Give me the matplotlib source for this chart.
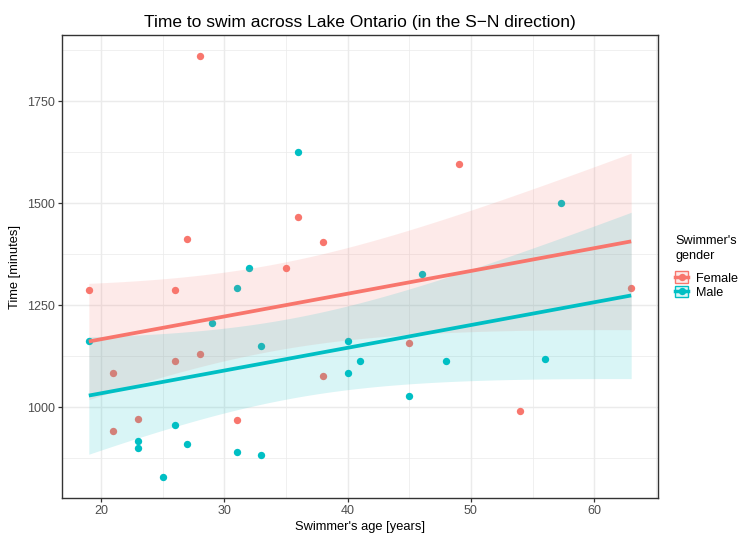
import numpy as np
import matplotlib
matplotlib.use("Agg")
import matplotlib.pyplot as plt
from matplotlib.patches import Patch
from matplotlib.lines import Line2D
from matplotlib.legend_handler import HandlerTuple

plt.rcParams["font.family"] = ["Liberation Sans", "DejaVu Sans"]

# swimmers' ages [years] and crossing times [minutes]
female_age = [28, 36, 27, 38, 35, 19, 26, 26, 28, 21, 38, 23, 21, 31, 49, 63, 45, 54]
female_time = [1860, 1467, 1412, 1404, 1341, 1286, 1288, 1113, 1130, 1084, 1076,
               970, 942, 969, 1597, 1293, 1158, 990]
male_age = [36, 32, 31, 29, 19, 33, 40, 40, 41, 26, 23, 23, 27, 31, 33, 25,
            57.3, 46, 45, 48, 56]
male_time = [1625, 1342, 1292, 1206, 1162, 1151, 1162, 1083, 1113, 956, 918,
             900, 909, 889, 882, 828, 1500, 1327, 1026, 1114, 1119]

genders = ["Female", "Male"]
colors = ["#F8766D", "#00BFC4"]
x_ticks = [20, 30, 40, 50, 60]
y_ticks = [1000, 1250, 1500, 1750]


def t_quantile(p, df):
    # Cornish-Fisher expansion of Student's t around the normal quantile
    z = np.sqrt(2) * _erfinv(2 * p - 1)
    g1 = (z**3 + z) / 4
    g2 = (5 * z**5 + 16 * z**3 + 3 * z) / 96
    g3 = (3 * z**7 + 19 * z**5 + 17 * z**3 - 15 * z) / 384
    return z + g1 / df + g2 / df**2 + g3 / df**3


def _erfinv(y):
    # Newton iterations on math.erf
    from math import erf, exp, pi, sqrt
    x = 0.0
    for _ in range(50):
        x -= (erf(x) - y) / (2 / sqrt(pi) * exp(-x * x))
    return x


# parallel-slopes model: time ~ age + gender
age = np.array(female_age + male_age, dtype=float)
time = np.array(female_time + male_time, dtype=float)
is_male = np.r_[np.zeros(len(female_age)), np.ones(len(male_age))]
X = np.column_stack([np.ones_like(age), age, is_male])
beta, *_ = np.linalg.lstsq(X, time, rcond=None)
resid = time - X @ beta
dof = len(time) - X.shape[1]
sigma2 = resid @ resid / dof
cov = sigma2 * np.linalg.inv(X.T @ X)
tq = t_quantile(0.975, dof)

grid = np.linspace(age.min(), age.max(), 100)

fig = plt.figure(figsize=(7.43, 5.33), dpi=100)
ax = fig.add_axes([61.7 / 743, 1 - 498.3 / 533, 596.6 / 743, 463 / 533])

ax.scatter(female_age, female_time, s=28, color=colors[0], linewidths=0, zorder=2)
ax.scatter(male_age, male_time, s=28, color=colors[1], linewidths=0, zorder=2)

for g, col in enumerate(colors):
    X0 = np.column_stack([np.ones_like(grid), grid, np.full_like(grid, g)])
    fit = X0 @ beta
    se = np.sqrt(np.einsum("ij,jk,ik->i", X0, cov, X0))
    ax.fill_between(grid, fit - tq * se, fit + tq * se, color=col, alpha=0.15,
                    linewidth=0, zorder=3)
for g, col in enumerate(colors):
    X0 = np.column_stack([np.ones_like(grid), grid, np.full_like(grid, g)])
    ax.plot(grid, X0 @ beta, color=col, lw=2.7, zorder=4, solid_capstyle="butt")

ax.margins(x=0.05, y=0.05)
ax.set_xticks(x_ticks)
ax.set_xticks([25, 35, 45, 55, 65], minor=True)
ax.set_yticks(y_ticks)
ax.set_yticks([875, 1125, 1375, 1625, 1875], minor=True)
ax.set_axisbelow(True)
ax.grid(which="major", color="#EBEBEB", lw=1.07)
ax.grid(which="minor", color="#EBEBEB", lw=0.53)
ax.tick_params(which="major", length=2.75, width=0.9, color="#333333",
               labelsize=9, labelcolor="#4D4D4D", pad=2.2)
ax.tick_params(which="minor", length=0)
for sp in ax.spines.values():
    sp.set_color("#333333")
    sp.set_linewidth(1.0)

ax.set_xlabel("Swimmer's age [years]", fontsize=9.3, labelpad=3)
ax.set_ylabel("Time [minutes]", fontsize=9.3, labelpad=4)
ax.set_title("Time to swim across Lake Ontario (in the S\u2212N direction)",
             fontsize=12.5, pad=6)

handles = [(Patch(facecolor=col, alpha=0.15, edgecolor="none"),
            Patch(facecolor="none", edgecolor=col, lw=1.0),
            Line2D([], [], color=col, lw=2.5, marker="o", markersize=5.3,
                   markeredgewidth=0))
           for col in colors]
leg = fig.legend(handles, genders, title="Swimmer's\ngender",
                 handler_map={tuple: HandlerTuple(ndivide=1)},
                 loc="upper left", bbox_to_anchor=(675 / 743, 1 - 235 / 533),
                 frameon=False, fontsize=9.1, title_fontsize=9.1,
                 handlelength=1.05, handleheight=1.05, handletextpad=0.6,
                 labelspacing=0.08, borderpad=0, borderaxespad=0,
                 alignment="left")
leg.get_title().set_linespacing(1.3)
leg._legend_box.sep = 7

fig.savefig("out.png", dpi=100)
